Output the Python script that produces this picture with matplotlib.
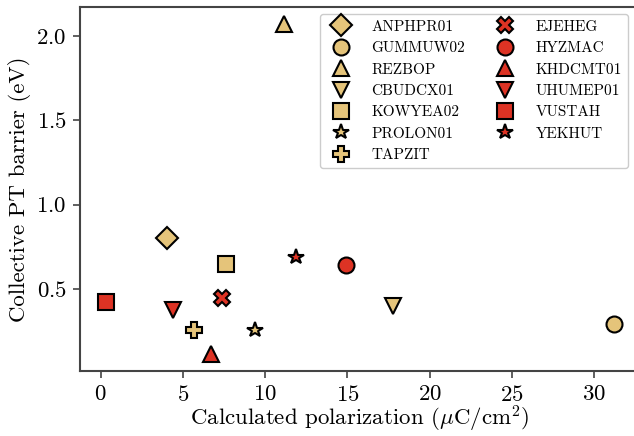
import matplotlib
matplotlib.use("Agg")
import matplotlib.pyplot as plt

plt.rcParams['font.family'] = 'serif'
plt.rcParams['font.serif'] = ['cmr10']
plt.rcParams['mathtext.fontset'] = 'cm'
plt.rcParams['axes.formatter.use_mathtext'] = True

names = ["ANPHPR01", "GUMMUW02", "REZBOP", "CBUDCX01", "KOWYEA02", "PROLON01", "TAPZIT",
         "EJEHEG", "HYZMAC", "KHDCMT01", "UHUMEP01", "VUSTAH", "YEKHUT"]
polarization = [4.04, 31.22, 11.16, 17.79, 7.6, 9.41, 5.68,
                7.37, 14.9, 6.69, 4.42, 0.32, 11.9]
barrier = [0.80, 0.29, 2.073, 0.40, 0.645, 0.254, 0.258,
           0.446, 0.64, 0.11, 0.373, 0.42, 0.69]
markers = ["D", "o", "^", "v", "s", "*", "P", "X", "o", "^", "v", "s", "*"]
groups = ["tan"] * 7 + ["red"] * 6

colors = {"tan": "#E5C47A", "red": "#DD3324"}

fig = plt.figure(figsize=(6.34, 4.36), dpi=100)
ax = fig.add_axes([80.5 / 634, 65 / 436, 559.3 / 634, 363.5 / 436])

for n, x, y, m, g in zip(names, polarization, barrier, markers, groups):
    ax.plot([x], [y], linestyle="none", marker=m, markersize=11.5,
            markerfacecolor=colors[g], markeredgecolor="black",
            markeredgewidth=1.5, label=n, zorder=3)

ax.set_xticks([0, 5, 10, 15, 20, 25, 30])
ax.set_yticks([0.5, 1.0, 1.5, 2.0])
ax.tick_params(axis="both", labelsize=16.5, direction="out", length=5, width=1.2,
               color="#444444", pad=5)
for s in ax.spines.values():
    s.set_color("#444444")
    s.set_linewidth(1.5)
ax.spines['right'].set_visible(False)

ax.set_xlabel(r"Calculated polarization ($\mu$C/cm$^2$)", fontsize=16.5, labelpad=-1)
ax.set_ylabel("Collective PT barrier (eV)", fontsize=16.5, labelpad=4)

leg = ax.legend(ncol=2, loc="upper right", bbox_to_anchor=(628 / 634, (436 - 14) / 436),
                bbox_transform=fig.transFigure, borderaxespad=0, fontsize=11,
                frameon=True, fancybox=True, edgecolor="#cccccc", framealpha=1,
                columnspacing=1.6, handletextpad=1.0, labelspacing=0.5)

fig.savefig("out.png", dpi=100)
